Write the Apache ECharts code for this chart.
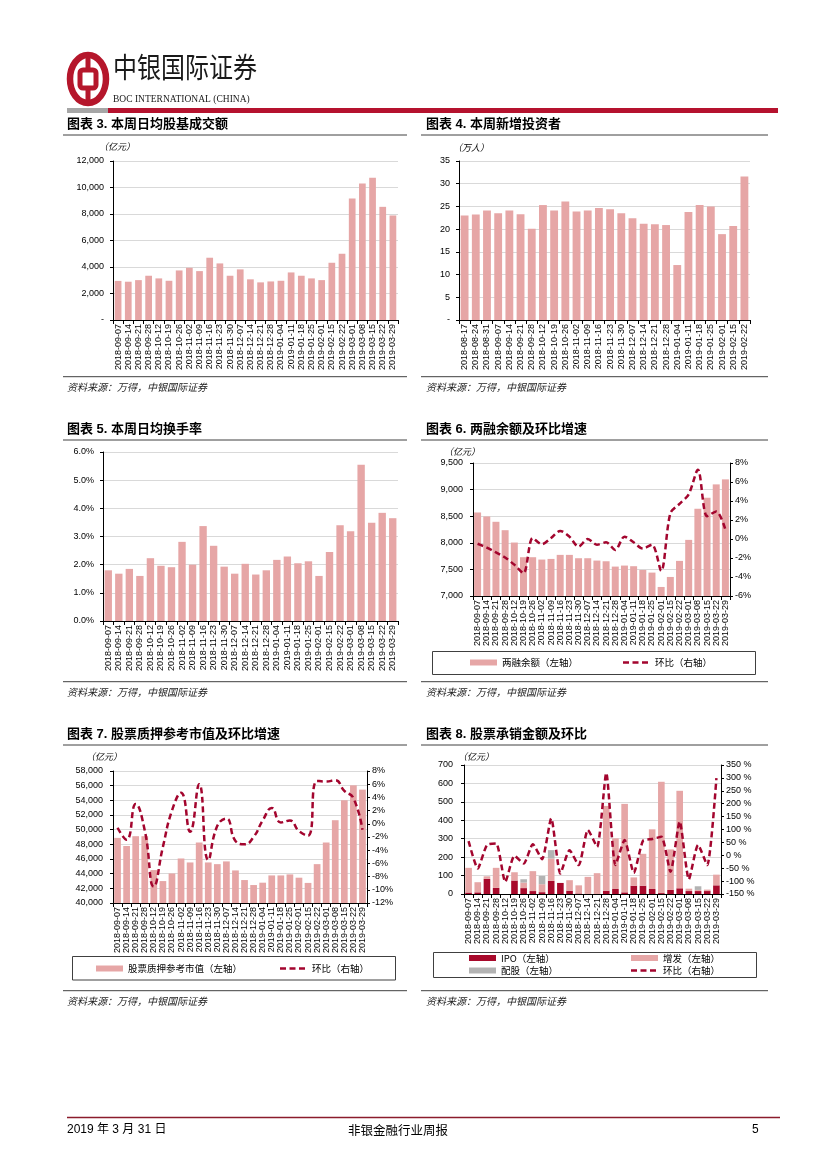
<!DOCTYPE html>
<html><head><meta charset="utf-8">
<script src="https://cdn.jsdelivr.net/npm/echarts@6/dist/echarts.min.js"></script>
<style>html,body{margin:0;padding:0;background:#fff}#c{width:827px;height:1169px}</style>
</head><body><div id="c"></div>
<script>
// ---------- categories ----------
const dates28 = ['2018-09-07','2018-09-14','2018-09-21','2018-09-28','2018-10-12','2018-10-19','2018-10-26','2018-11-02','2018-11-09','2018-11-16','2018-11-23','2018-11-30','2018-12-07','2018-12-14','2018-12-21','2018-12-28','2019-01-04','2019-01-11','2019-01-18','2019-01-25','2019-02-01','2019-02-15','2019-02-22','2019-03-01','2019-03-08','2019-03-15','2019-03-22','2019-03-29'];
const dates26 = ['2018-08-17','2018-08-24','2018-08-31','2018-09-07','2018-09-14','2018-09-21','2018-09-28','2018-10-12','2018-10-19','2018-10-26','2018-11-02','2018-11-09','2018-11-16','2018-11-23','2018-11-30','2018-12-07','2018-12-14','2018-12-21','2018-12-28','2019-01-04','2019-01-11','2019-01-18','2019-01-25','2019-02-01','2019-02-15','2019-02-22'];

// ---------- series values ----------
const turnoverAmount = [2950,2890,3010,3340,3140,2960,3740,3940,3690,4700,4270,3340,3820,3070,2840,2910,2960,3590,3340,3140,3010,4320,5000,9170,10300,10730,8540,7890];
const newInvestors = [23.0,23.2,24.1,23.5,24.1,23.3,20.1,25.3,24.1,26.1,23.9,24.1,24.65,24.4,23.5,22.4,21.2,21.05,20.9,12.1,23.8,25.3,25.0,18.9,20.7,31.6];
const turnoverRate = [1.80,1.68,1.85,1.60,2.23,1.96,1.91,2.81,2.00,3.37,2.67,1.93,1.68,2.03,1.65,1.80,2.17,2.29,2.05,2.12,1.60,2.45,3.40,3.19,5.55,3.49,3.84,3.65];
const marginBalance = [8570,8495,8395,8237,8005,7729,7729,7685,7697,7773,7773,7710,7710,7666,7653,7553,7572,7560,7490,7440,7170,7358,7660,8055,8640,8847,9098,9192];
const marginChange = [-0.5,-0.9,-1.4,-1.95,-2.7,-3.6,0.1,-0.55,0.1,0.85,0.25,-0.8,0.0,-0.6,-0.35,-1.15,0.25,-0.35,-1.0,-0.6,-3.35,2.7,3.7,4.7,7.3,2.4,2.9,1.0];
const pledgeValue = [48880,47770,49110,49110,44490,42990,44030,46070,45530,48250,45530,45300,45670,44440,43130,42450,42770,43760,43760,43900,43450,42740,45300,48250,51290,54010,56050,55460];
const pledgeChange = [-0.6,-2.4,3.0,-1.0,-9.5,-3.5,2.0,4.7,-1.2,6.0,-5.5,-0.3,0.8,-2.6,-3.1,-2.0,0.5,2.4,0.2,0.5,-1.1,-1.8,6.5,6.4,6.6,5.0,3.9,-0.9];
const ipoAmount = [8,9,82,33,0,73,32,16,10,71,60,18,3,0,0,18,27,9,45,45,27,5,22,31,16,16,16,47];
const seoAmount = [134,55,14,109,0,45,30,108,43,122,0,57,44,93,113,460,275,480,45,173,324,604,220,529,13,6,8,58];
const rightsAmount = [0,0,0,0,0,0,18,0,45,45,0,0,0,0,0,0,0,0,0,0,0,0,0,0,0,20,0,0];
const underwritingChange = [55,-51,40,46,-103,-2,-32,43,-15,143,-71,20,-38,98,33,319,-38,59,-68,56,63,72,-64,131,-93,40,-38,299];

// ---------- tick settings ----------
const ticks3 = {min:0, max:12000, interval:2000};
const ticks4 = {min:0, max:35, interval:5};
const ticks5 = {min:0, max:6, interval:1};
const ticks6L = {min:7000, max:9500, interval:500};
const ticks6R = {min:-6, max:8, interval:2};
const ticks7L = {min:40000, max:58000, interval:2000};
const ticks7R = {min:-12, max:8, interval:2};
const ticks8L = {min:0, max:700, interval:100};
const ticks8R = {min:-150, max:350, interval:50};

const PINK = '#E6A6A6', DARK = '#A3052E', IPO_RED = '#A8092B', GRAY = '#B3B3B3';
const NUM = '"Liberation Sans", Arial, "Noto Sans CJK SC", sans-serif';
const CJK = '"Noto Sans CJK SC", sans-serif';

const fmtComma = v => v === 0 ? '-' : v.toLocaleString('en-US');
const fmtComma0 = v => v.toLocaleString('en-US');

function catAxis(grid, data) {
  return {type:'category', gridIndex:grid, data:data, boundaryGap:true,
    axisLine:{show:true, onZero:false, lineStyle:{color:'#000', width:1}},
    axisTick:{show:true, length:4, lineStyle:{color:'#000'}},
    axisLabel:{interval:0, rotate:90, fontSize:9, color:'#000', fontFamily:NUM, margin:4, hideOverlap:false},
    splitLine:{show:false}};
}
function valAxis(grid, t, fmt, right, margin) {
  return {type:'value', gridIndex:grid, min:t.min, max:t.max, interval:t.interval,
    position: right ? 'right' : 'left',
    axisLine:{show:true, onZero:false, lineStyle:{color:'#000', width:1}},
    axisTick:{show:true, length:3, lineStyle:{color:'#000'}},
    axisLabel:{formatter:fmt, fontSize:9, color:'#000', fontFamily:NUM, margin:margin},
    splitLine:{show:!right, lineStyle:{color:'#D9D9D9', width:1}}};
}
const lineStyle = {color:DARK, width:2.5, type:[6,3.5]};

// ---------- graphics (page furniture) ----------
const g = [];
function txt(x, y, s, o) {
  o = o || {};
  g.push({type:'text', x:x, y:y, scaleX:o.sx||1, scaleY:o.sy||1, z:10, style:{text:s, fill:o.fill||'#000',
    fontSize:o.size||10, fontFamily:o.family||CJK, fontWeight:o.weight||'normal', fontStyle:o.style||'normal',
    textAlign:o.align||'left', textVerticalAlign:o.valign||'middle'}});
}
function ln(x1, y1, x2, y2, c, w, dash) {
  g.push({type:'line', z:10, shape:{x1:x1, y1:y1, x2:x2, y2:y2}, style:{stroke:c, lineWidth:w, lineDash:dash||null}});
}
// header logo
g.push({type:'ellipse', shape:{cx:88, cy:79, rx:18, ry:24}, style:{fill:'none', stroke:'#B5162B', lineWidth:6.5}});
g.push({type:'rect', shape:{x:80, y:70, width:16, height:18, r:3}, style:{fill:'none', stroke:'#B5162B', lineWidth:5}});
ln(88, 56, 88, 70, '#B5162B', 5);
ln(88, 88, 88, 102, '#B5162B', 5);
txt(113, 53, '中银国际证券', {size:24, sy:1.2, valign:'top', fill:'#1a1a1a'});
txt(113, 93, 'BOC INTERNATIONAL (CHINA)', {size:9.5, sy:1.2, valign:'top', family:'"Liberation Serif", serif', fill:'#1a1a1a'});
g.push({type:'rect', shape:{x:67, y:108, width:41, height:5}, style:{fill:'#A6A6A6'}});
g.push({type:'rect', shape:{x:108, y:108, width:670, height:5}, style:{fill:'#B5122E'}});

// chart titles, rules, sources
const titleFont = '"Liberation Sans", "Noto Sans CJK SC", sans-serif';
const rows = [
  {ty:124, rule:135, src:376.7, srcY:387, L:'图表 3. 本周日均股基成交额', R:'图表 4. 本周新增投资者'},
  {ty:429, rule:440, src:681.7, srcY:692, L:'图表 5. 本周日均换手率', R:'图表 6. 两融余额及环比增速'},
  {ty:734, rule:745, src:990.7, srcY:1001, L:'图表 7. 股票质押参考市值及环比增速', R:'图表 8. 股票承销金额及环比'}
];
rows.forEach(r => {
  txt(67, r.ty, r.L, {size:13, weight:'bold', family:titleFont});
  txt(426, r.ty, r.R, {size:13, weight:'bold', family:titleFont});
  ln(63, r.rule, 407, r.rule, '#404040', 1);
  ln(421, r.rule, 768, r.rule, '#404040', 1);
  ln(63, r.src, 407, r.src, '#404040', 1);
  ln(421, r.src, 768, r.src, '#404040', 1);
  txt(67, r.srcY, '资料来源：万得，中银国际证券', {size:10, style:'italic', fill:'#222'});
  txt(426, r.srcY, '资料来源：万得，中银国际证券', {size:10, style:'italic', fill:'#222'});
});
// units
txt(99, 147, '（亿元）', {size:9, style:'italic'});
txt(453, 148, '（万人）', {size:9, style:'italic'});
txt(444, 452, '（亿元）', {size:9, style:'italic'});
txt(86, 757, '（亿元）', {size:9, style:'italic'});
txt(458, 757, '（亿元）', {size:9, style:'italic'});
// legend boxes
[[432.5,651.5,323,23],[72.5,956.5,323,23.5],[433.5,952.5,323,25]].forEach(b => {
  g.push({type:'rect', shape:{x:b[0], y:b[1], width:b[2], height:b[3]}, style:{fill:'none', stroke:'#404040', lineWidth:1}});
});
// dashed-line legend entries (环比)
[[623,662.5],[280,968.5],[631,970.5]].forEach(p => {
  ln(p[0], p[1], p[0]+27, p[1], DARK, 2.5, [6,3.5]);
  txt(p[0]+32, p[1], '环比（右轴）', {size:9.5});
});
// footer
ln(67, 1117.5, 780, 1117.5, '#8B1C2C', 1.5);
txt(67, 1130, '2019 年 3 月 31 日', {size:12, family:NUM});
txt(398, 1130, '非银金融行业周报', {size:12.5, align:'center'});
txt(752, 1130, '5', {size:12, family:NUM});

function leg(name, left, top) {
  return {data:[{name:name, icon:'rect'}], left:left, top:top, padding:0, itemWidth:27, itemHeight:6,
    selectedMode:false, orient:'horizontal',
    textStyle:{fontSize:9.5, color:'#000', fontFamily:CJK, lineHeight:11}};
}

const option = {
  animation:false,
  backgroundColor:'#fff',
  grid:[
    {left:113, top:161, width:285, height:159},
    {left:459, top:161, width:291, height:159},
    {left:103, top:452, width:295, height:169},
    {left:473, top:463, width:257, height:133},
    {left:113, top:771, width:254, height:132},
    {left:464, top:765, width:257, height:129}
  ],
  xAxis:[catAxis(0,dates28), catAxis(1,dates26), catAxis(2,dates28), catAxis(3,dates28), catAxis(4,dates28), catAxis(5,dates28)],
  yAxis:[
    valAxis(0, ticks3, fmtComma, false, 9),
    valAxis(1, ticks4, fmtComma, false, 9),
    valAxis(2, ticks5, v => v.toFixed(1) + '%', false, 9),
    valAxis(3, ticks6L, fmtComma0, false, 10),
    valAxis(3, ticks6R, v => v + '%', true, 5),
    valAxis(4, ticks7L, fmtComma0, false, 10),
    valAxis(4, ticks7R, v => v + '%', true, 5),
    valAxis(5, ticks8L, fmtComma0, false, 11),
    valAxis(5, ticks8R, v => v + ' %', true, 5)
  ],
  legend:[
    leg('两融余额（左轴）', 470, 657),
    leg('股票质押参考市值（左轴）', 96, 963),
    leg('IPO（左轴）', 469, 952.5),
    leg('配股（左轴）', 469, 965),
    leg('增发（左轴）', 631, 952.5)
  ],
  graphic:g,
  series:[
    {type:'bar', name:'日均股基成交额', xAxisIndex:0, yAxisIndex:0, data:turnoverAmount, barWidth:'66%', itemStyle:{color:PINK}},
    {type:'bar', name:'新增投资者', xAxisIndex:1, yAxisIndex:1, data:newInvestors, barWidth:'70%', itemStyle:{color:PINK}},
    {type:'bar', name:'日均换手率', xAxisIndex:2, yAxisIndex:2, data:turnoverRate, barWidth:'70%', itemStyle:{color:PINK}},
    {type:'bar', name:'两融余额（左轴）', xAxisIndex:3, yAxisIndex:3, data:marginBalance, barWidth:'76%', itemStyle:{color:PINK}},
    {type:'line', name:'两融环比', xAxisIndex:3, yAxisIndex:4, data:marginChange, smooth:0.3, symbol:'none', color:DARK, lineStyle:lineStyle, z:5},
    {type:'bar', name:'股票质押参考市值（左轴）', xAxisIndex:4, yAxisIndex:5, data:pledgeValue, barWidth:'74%', itemStyle:{color:PINK}},
    {type:'line', name:'质押环比', xAxisIndex:4, yAxisIndex:6, data:pledgeChange, smooth:0.5, symbol:'none', color:DARK, lineStyle:lineStyle, z:5},
    {type:'bar', name:'IPO（左轴）', stack:'uw', xAxisIndex:5, yAxisIndex:7, data:ipoAmount, barWidth:'72%', itemStyle:{color:IPO_RED}},
    {type:'bar', name:'增发（左轴）', stack:'uw', xAxisIndex:5, yAxisIndex:7, data:seoAmount, barWidth:'72%', itemStyle:{color:PINK}},
    {type:'bar', name:'配股（左轴）', stack:'uw', xAxisIndex:5, yAxisIndex:7, data:rightsAmount, barWidth:'72%', itemStyle:{color:GRAY}},
    {type:'line', name:'承销环比', xAxisIndex:5, yAxisIndex:8, data:underwritingChange, smooth:0.2, symbol:'none', color:DARK, lineStyle:lineStyle, z:5}
  ]
};
const chart = echarts.init(document.getElementById('c'), null, {renderer:'canvas', width:827, height:1169});
chart.setOption(option);
</script></body></html>
